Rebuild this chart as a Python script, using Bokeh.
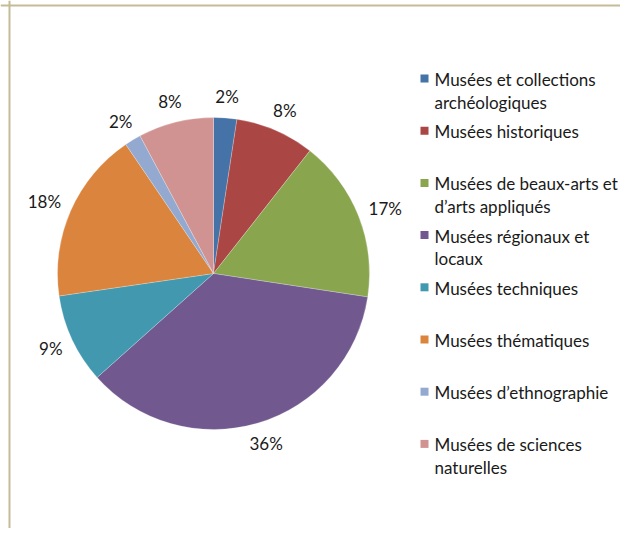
import math
from bokeh.plotting import figure
from bokeh.models import Range1d, ColumnDataSource, Span
from bokeh.embed import file_html
from bokeh.resources import INLINE
from bokeh.core.properties import value

# ---- data ----
categories = [
    "Musées et collections\narchéologiques",
    "Musées historiques",
    "Musées de beaux-arts et\nd’arts appliqués",
    "Musées régionaux et\nlocaux",
    "Musées techniques",
    "Musées thématiques",
    "Musées d’ethnographie",
    "Musées de sciences\nnaturelles",
]
shares = [2.4, 8.2, 16.8, 36.0, 9.3, 17.8, 1.7, 7.8]
colors = ["#4572A7", "#AA4643", "#89A54E", "#71588F",
          "#4198AF", "#DB843D", "#93A9CF", "#D19392"]

# ---- layout constants (pixels) ----
W, H = 620, 528
CX, CY, R = 213, 255, 156
LABEL_GAP = 13
LABEL_H, CHAR_W = 17, 10.5
FONT = "Lato"
FS = "17px"

p = figure(width=W, height=H, output_backend="svg", toolbar_location=None,
           x_range=Range1d(0, W), y_range=Range1d(0, H),
           min_border=0, outline_line_color=None)
p.axis.visible = False
p.grid.visible = False
p.background_fill_color = "white"
p.border_fill_color = "white"

total = sum(shares)
starts, ends, mids = [], [], []
cum = 0.0
for v in shares:
    a0 = math.pi / 2 - 2 * math.pi * cum / total
    cum += v
    a1 = math.pi / 2 - 2 * math.pi * cum / total
    starts.append(a0)
    ends.append(a1)
    mids.append((a0 + a1) / 2)

src = ColumnDataSource(dict(start=starts, end=ends, color=colors,
                            x=[CX] * len(shares), y=[CY] * len(shares)))
p.wedge(x="x", y="y", radius=R, start_angle="start", end_angle="end",
        direction="clock", fill_color="color", line_color="white",
        line_width=0.4, line_alpha=0.6, source=src)

# percentage labels ("outside end": label box just outside the rim)
ltxt = [f"{round(v / total * 100)}%" for v in shares]
lx, ly = [], []
for m, t in zip(mids, ltxt):
    w = CHAR_W * len(t)
    c, s = math.cos(m), math.sin(m)
    lx.append(CX + (R + LABEL_GAP) * c + w / 2 * c)
    ly.append(CY + (R + LABEL_GAP) * s + LABEL_H / 2 * s)
p.text(x=lx, y=ly, text=ltxt, text_font=value(FONT), text_font_size=FS,
       text_color="#1a1a1a", text_align="center", text_baseline="middle")

# legend (manual)
SQ_X, TXT_X, LEG_Y0, LEG_STEP, LINE_H = 424, 434, 449, 52.2, 22.5
sq_x, sq_y = [], []
tx, ty, tt = [], [], []
for i, cat in enumerate(categories):
    y0 = LEG_Y0 - i * LEG_STEP
    sq_x.append(SQ_X)
    sq_y.append(y0 + 1)
    for j, line in enumerate(cat.split("\n")):
        tx.append(TXT_X)
        ty.append(y0 - j * LINE_H)
        tt.append(line)
p.scatter(x=sq_x, y=sq_y, marker="square", size=8, fill_color=colors,
          line_color=None)
p.text(x=tx, y=ty, text=tt, text_font=value(FONT), text_font_size=FS,
       text_color="#1a1a1a", text_align="left", text_baseline="middle")

# frame border (left and top)
p.add_layout(Span(location=9, dimension="height", line_color="#C4BC96", line_width=2))
p.add_layout(Span(location=H - 5, dimension="width", line_color="#C4BC96", line_width=2))

open("out.html", "w").write(file_html(p, INLINE))
